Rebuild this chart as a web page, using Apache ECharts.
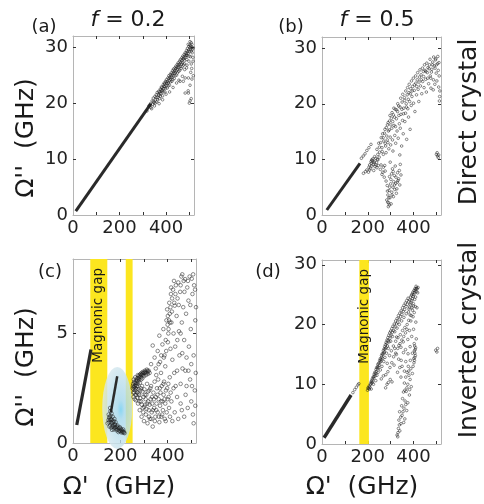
<!DOCTYPE html>
<html>
<head>
<meta charset="utf-8">
<script src="https://cdn.jsdelivr.net/npm/echarts@6/dist/echarts.min.js"></script>
<style>
  html, body { margin: 0; background: #fff; }
  #chart { width: 484px; height: 504px; }
</style>
</head>
<body>
<div id="chart"></div>
<script>
// tick labels
const xLabels = [0, 200, 400];
const xTicks = [100, 200, 300, 400, 500];
const yLabelsBig = [0, 10, 20, 30];
const yTicksBig = [10, 20, 30];
const yLabelsC = [0, 5];
const yTicksC = [5];

// magnonic gaps (GHz)
const gapC = [[73, 145], [223, 252]];
const gapD = [[163, 205]];
const gapLabelC = 109;
const gapLabelD = 184;

// (a) f = 0.2, direct crystal
const lineA = [[12, 0.7], [335, 19.9]];
const cloudA = [
  [330,19.6],[335,19.2],[340,20.4],[342,19.8],[345,20.9],[348,20.1],[350,19.5],[352,21.2],[355,20.6],[358,21.5],
  [360,20.2],[362,21.9],[365,21.0],[368,22.1],[370,21.4],[372,20.8],[375,22.5],[378,21.7],[380,22.9],[382,22.2],
  [385,21.3],[388,23.3],[390,22.6],[392,23.6],[395,22.0],[398,23.9],[400,23.1],[402,24.2],[405,22.7],[408,24.5],
  [410,23.6],[412,24.9],[415,23.2],[418,25.1],[420,24.3],[422,25.4],[425,23.9],[428,25.8],[430,24.9],[432,26.1],
  [435,24.4],[438,26.3],[440,25.5],[442,26.6],[445,25.0],[448,26.9],[450,26.1],[452,27.2],[455,25.7],[458,27.5],
  [460,26.6],[462,27.8],[465,26.2],[468,28.1],[470,27.2],[472,28.4],[475,26.8],[478,28.7],[480,27.6],[482,29.0],
  [485,28.2],[488,29.4],[490,28.5],[492,29.8],[495,28.9],[498,30.1],[500,29.2],[502,30.4],[505,29.6],[508,30.8],
  [510,29.9],[498,27.5],[505,28.3],[512,29.0],[508,27.0],[515,28.2],[470,24.8],[480,26.0],[490,26.8],[455,24.1],
  [460,23.9],[474,23.9],[482,21.8],[496,21.8],[503,20.4],[500,20.0],[488,26.3],[496,24.5],[495,22.2],[482,24.5],
  [430,22.8],[445,23.6],[415,22.0],[400,21.6],[385,20.6],[370,19.9],[495,30.5],[503,31.0],[488,28.6],[476,27.9],
  [466,27.0],[454,26.4],[444,25.7],[434,25.3],[424,24.6],[414,24.0],[404,23.5],[394,22.9],[384,22.3],[374,21.8],
  [318,18.6],[326,19.5],[333,19.9],[338,19.0],[346,20.3],[353,20.0],[357,21.0],[363,20.6],[367,21.5],[371,22.0],
  [376,21.2],[379,22.4],[383,22.8],[387,22.0],[391,23.0],[394,23.4],[397,22.6],[401,23.7],[406,23.9],[409,23.1],
  [413,24.4],[417,24.6],[419,23.8],[423,24.9],[427,25.2],[429,24.2],[433,25.6],[437,25.8],[439,24.9],[443,26.2],
  [447,26.4],[449,25.4],[453,26.8],[457,26.9],[459,25.9],[463,27.3],[467,27.6],[469,26.5],[473,27.9],[477,28.2],
  [479,27.0],[483,28.5],[487,28.9],[489,27.8],[493,29.2],[497,29.5],[499,28.4],[503,29.9],[506,30.2],[509,29.3],
  [511,30.5],[513,29.6],[517,29.9],[516,27.5],[510,26.2],[506,25.5],[511,24.3],[517,24.9],[503,23.2],[508,20.8]
];

// (b) f = 0.5, direct crystal
const lineB = [[21, 0.9], [166, 9.3]];
const tailB = [[172,10.2],[180,10.6],[188,11.0],[196,11.6],[205,12.1],[214,12.7]];
const cloudB = [
  [181,7.5],[190,7.8],[196,8.1],[203,7.7],[205,8.6],[208,9.0],[212,8.4],[215,9.3],[218,8.8],[220,9.8],
  [224,9.1],[226,8.0],[228,9.6],[232,8.7],[235,10.2],[238,9.4],[240,8.5],[244,9.9],[246,8.9],[250,10.4],
  [214,9.6],[222,10.1],[230,10.5],
  [255,8.2],[262,7.3],[268,8.6],[272,6.8],[276,7.9],[280,6.1],[283,2.7],[285,5.3],[288,3.6],[290,1.5],
  [291,2.2],[293,4.4],[295,6.9],[297,3.1],[298,9.5],[300,5.6],[302,2.0],[304,7.4],[305,4.1],[308,8.3],
  [310,5.0],[312,3.3],[313,6.0],[316,7.1],[318,4.6],[320,8.8],[322,5.7],[325,3.9],[327,4.7],[330,7.6],
  [332,6.2],[335,6.5],[338,8.0],[340,5.4],[342,9.1],[345,7.2],
  [240,11.8],[248,12.9],[252,11.3],[259,13.9],[262,12.1],[265,14.6],[268,10.9],[270,13.3],[275,15.4],[278,12.4],
  [280,11.2],[283,14.2],[286,16.2],[288,13.0],[290,15.1],[292,11.9],[295,16.9],[298,14.0],[300,12.6],[303,17.4],
  [305,15.6],[308,13.5],[310,11.5],[312,18.0],[315,16.1],[318,14.3],[320,19.0],[322,12.9],[325,17.3],[328,15.1],
  [330,18.6],[333,13.8],[335,19.6],[338,16.4],[340,10.8],[342,15.6],[345,18.1],[348,12.4],[350,20.3],[352,17.0],
  [355,14.6],[357,19.2],[360,21.1],[362,16.8],[365,18.3],[368,20.0],[370,13.6],[372,21.6],[375,19.1],[378,17.6],
  [380,22.0],[383,20.4],[385,15.4],[388,22.7],[390,19.7],[393,21.3],[396,23.1],[400,20.1],[403,22.4],[406,18.6],
  [410,23.7],[413,21.6],[416,24.3],[420,22.6],[423,20.4],[426,24.8],[430,23.2],[433,25.2],[436,21.8],[440,24.0],
  [443,25.8],[446,22.9],[450,26.0],[453,24.4],[456,22.1],[460,25.6],[463,26.5],[466,23.6],[470,27.0],[473,25.0],
  [476,22.8],[480,26.2],[484,27.5],[487,24.3],[490,26.8],[493,23.5],[496,27.9],[499,25.5],[502,24.1],[505,27.2],
  [508,26.0],[510,23.0],[512,25.0],[514,21.3],[513,20.5],[515,22.3],[497,28.1],[486,22.5],[475,24.6],
  [500,10.9],[505,10.6],[508,10.3],[503,11.2],[510,10.8],
  [244,10.9],[251,12.2],[256,13.0],[263,11.4],[267,13.9],[273,14.7],[276,12.9],[281,15.7],[285,13.5],[289,16.6],
  [294,15.3],[297,17.9],[301,16.2],[306,18.4],[309,16.8],[314,19.2],[317,17.6],[321,15.9],[326,18.9],[331,20.0],
  [336,17.9],[341,19.4],[344,21.0],[349,19.0],[353,21.7],[356,18.2],[361,20.6],[366,22.3],[369,19.4],[374,22.9],
  [377,20.8],[381,23.5],[386,21.8],[391,24.1],[394,22.3],[399,24.6],[404,23.4],[409,25.0],[414,23.1],[418,25.6],
  [424,23.9],[428,26.1],[434,24.3],[439,26.4],[444,24.9],[448,27.0],[454,25.8],[458,27.3],[462,24.6],[468,26.3],
  [472,28.0],[478,25.7],[482,27.0],[488,28.4],[494,26.4],[500,27.0],[506,28.5],[511,27.4],[209,8.1],[217,9.9],
  [227,9.4],[236,9.0],[242,10.0],[258,9.0],[266,7.7],[274,8.9],[286,4.3],[292,3.1],[296,5.0],[301,6.4],
  [306,3.6],[311,7.8],[317,5.4],[323,6.8],[329,5.9],[287,2.3],[294,1.8]
];

// (c) f = 0.2, inverted crystal
const lineC = [[16, 0.82], [76, 4.27]];
const steepC = [[187, 3.05], [160, 1.4]];
const ellipseC = [[187, 1.6]];
const blobC = [
  [158,1.45],[155,1.2],[152,0.95],[150,1.05],[160,1.1],[165,0.9],[170,0.8],[172,1.0],[175,0.7],[178,0.85],
  [182,0.65],[185,0.75],[190,0.6],[195,0.68],[200,0.55],[205,0.6],[210,0.5],[215,0.52],[218,0.45],[162,0.7],
  [158,0.8],[168,1.2],[163,1.35],[157,1.6],[180,0.95],[188,0.8],[198,0.72],[205,0.48],[175,1.1],[165,0.6],
  [146,0.9],[154,0.75],[192,0.5],[212,0.62],
  [151,1.3],[156,1.05],[161,0.95],[167,0.75],[173,0.62],[179,0.72],[184,0.58],[189,0.7],[196,0.55],[202,0.65],
  [208,0.55],[214,0.47],[170,0.95],[176,0.82],[153,1.15],[159,1.25],[164,1.05]
];
const cloudC = [
  [252,2.5],[254,2.7],[255,2.3],[257,2.9],[258,2.55],[260,2.75],[262,2.4],[263,3.0],[265,2.65],[267,2.85],
  [268,2.2],[270,2.95],[272,2.6],[274,3.1],[276,2.8],[278,2.45],[280,3.0],[283,2.75],[285,3.15],[288,2.9],
  [290,3.2],[293,2.95],[296,3.25],[300,3.05],[304,3.3],[308,3.1],[312,3.35],[316,3.15],[320,3.3],[324,3.2],
  [256,2.1],[261,2.0],[266,1.95],[271,2.3],
  [275,1.8],[280,2.2],[282,1.5],[285,2.4],[288,1.9],[290,1.2],[292,2.6],[295,1.6],[298,2.1],[300,1.0],
  [302,2.45],[305,1.75],[308,1.3],[310,2.2],[313,2.7],[315,0.9],[318,1.9],[320,1.5],[322,2.4],[325,1.1],
  [328,2.0],[330,2.6],[333,1.4],[335,1.8],[337,0.75],[340,2.3],[343,1.6],[345,2.8],[348,1.2],[350,2.1],
  [353,1.8],[355,2.5],[358,1.4],[360,2.9],[362,2.0],[365,0.95],[368,1.7],[370,2.3],[373,1.2],[375,2.6],
  [378,1.9],[380,1.5],[383,2.2],[385,2.8],[388,1.1],[390,1.8],[393,2.4],[396,1.4],[400,2.0],[403,2.7],
  [406,1.6],[410,1.2],[413,2.3],[416,1.9],[420,1.0],[425,2.5],[430,1.4],
  [330,3.6],[337,4.45],[345,3.9],[350,3.4],[358,4.2],[365,4.9],[368,3.7],[373,4.0],[378,4.5],[382,5.2],
  [387,4.0],[390,3.5],[392,4.7],[395,5.6],[398,6.1],[401,4.6],[401,5.8],[404,5.2],[407,6.4],[410,5.5],
  [412,4.3],[414,6.8],[416,5.5],[418,6.0],[420,3.8],[423,7.0],[425,5.0],[428,6.4],[430,6.27],[432,4.4],
  [435,7.2],[438,5.8],[440,3.3],[442,6.6],[445,7.33],[448,5.1],[450,4.0],[453,6.9],[455,2.7],[458,7.6],
  [460,5.5],[463,3.4],[466,6.2],[468,7.4],[470,4.7],[474,7.48],[476,2.2],[478,5.9],[480,3.9],[483,7.1],
  [485,1.6],[488,6.5],[490,4.4],[493,7.6],[495,2.9],[498,5.2],[500,3.6],[502,7.5],[505,6.8],[507,1.3],
  [510,4.0],[512,7.2],[515,2.4],[517,5.6],[519,3.2],[520,6.2],[470,1.2],[455,1.8],[440,2.1],[445,1.1],
  [460,1.5],[480,2.6],[500,1.9],[510,0.9],
  [253,2.6],[256,2.45],[259,2.8],[261,2.6],[264,2.5],[266,2.75],[269,2.6],[271,2.85],[273,2.7],[275,2.95],
  [277,3.05],[279,2.9],[282,3.1],[286,3.0],[289,3.1],[292,3.15],[295,3.1],[298,3.2],[302,3.2],[306,3.25],
  [310,3.2],[314,3.3],[318,3.25],[259,2.3],[263,2.2],[268,2.45],[273,2.05],[277,2.25],[281,1.9],[284,2.05],
  [287,2.5],[291,1.75],[294,2.35],[297,1.4],[301,1.65],[304,2.2],[307,2.0],[311,1.55],[314,1.8],[317,2.35],
  [321,1.2],[324,1.75],[327,2.5],[331,1.1],[334,2.1],[338,1.5],[342,2.0],[346,1.0],[352,1.5],[357,2.2],
  [363,1.2],[367,2.5],[372,1.9],[377,1.3],[382,2.7],[387,2.0],[392,1.0],[398,2.5],[404,2.1],[409,3.0],
  [352,3.1],[362,3.6],[372,3.2],[384,3.9],[394,4.2],[403,5.0],[409,5.9],[412,6.2],[406,5.6],[400,5.4],
  [415,7.1],[419,6.6],[427,7.4],[433,6.8],[447,6.3],[455,7.2],[462,7.7],[471,6.9],[486,7.4],[496,6.3],
  [508,7.7],[516,7.0],[488,3.3],[503,2.6],[517,1.7],[462,4.1],[475,3.3],[455,5.0],[441,4.7],[428,3.2],
  [434,2.6]
];

// (d) f = 0.5, inverted crystal
const lineD = [[9, 1.05], [127, 8.2]];
const tailD = [[135,8.6],[143,9.1],[150,9.5],[157,9.9],[161,10.1]];
const cloudD = [
  [199,9.0],[203,9.3],[206,9.7],[209,9.5],[212,10.1],[215,10.4],[218,10.2],[220,10.9],[223,11.2],[226,11.0],
  [228,11.7],[231,12.0],[234,11.8],[236,12.5],[239,12.8],[242,12.6],[244,13.3],[247,13.5],[250,13.2],[252,14.0],
  [255,14.3],[258,14.1],[260,14.8],[263,15.1],[266,15.0],[268,15.6],[271,15.9],[274,16.3],[277,16.6],[280,17.0],
  [284,17.4],[288,17.8],[292,18.2],[296,18.6],[300,18.9],
  [305,19.3],[310,19.7],[316,20.1],[322,20.6],[328,21.0],[334,21.5],[340,21.9],[346,22.3],[352,22.8],[358,23.2],
  [364,23.6],[370,24.0],[376,24.4],[380,22.6],[383,22.9],[386,23.3],[389,23.6],[392,24.0],[395,24.3],[398,24.7],
  [401,25.0],[404,25.3],[407,25.6],[410,25.9],[413,26.1],[416,26.0],[420,26.2],[400,23.1],[405,24.2],[395,22.4],
  [390,21.5],[408,23.0],[403,22.0],
  [215,9.2],[225,10.0],[235,10.6],[240,11.5],[245,12.0],[255,12.4],[262,13.0],[270,13.8],[275,14.5],[282,15.2],
  [285,13.5],[290,16.0],[295,14.8],[300,17.2],[303,15.6],[308,18.0],[312,16.4],[315,13.2],[318,18.8],[322,17.2],
  [325,15.0],[328,19.4],[332,17.8],[335,14.2],[338,20.0],[342,18.3],[345,16.2],[348,20.6],[352,19.0],[355,17.1],
  [358,21.2],[362,19.5],[365,15.8],[368,21.8],[372,20.0],[375,17.5],[378,22.1],[382,19.0],[385,16.3],[388,20.6],
  [392,18.0],[395,15.2],[398,21.3],[400,19.2],[403,16.8],[405,14.5],[406,15.2],[404,14.0],[407,15.8],[405,16.4],
  [402,13.6],[410,20.4],[412,17.6],[415,22.8],[350,13.0],[360,12.2],[340,12.8],[330,12.0],[345,11.2],[298,10.8],
  [290,10.3],[284,10.0],[278,9.4],[306,10.4],
  [377,13.0],[372,12.0],[380,11.5],[366,11.2],[385,10.8],[360,10.2],[375,10.0],[390,9.6],[356,8.7],[368,8.8],
  [382,8.2],[352,7.6],[363,7.2],[375,6.9],[348,6.4],[358,6.0],[370,5.6],[339,5.4],[350,4.8],[362,4.2],
  [336,4.0],[345,3.4],[334,2.6],[340,2.2],[328,1.5],[332,1.9],[395,11.8],[388,12.6],
  [497,15.7],[505,16.0],[502,15.4],
  [201,9.4],[207,9.2],[211,9.9],[217,10.6],[221,10.4],[227,11.3],[232,11.4],[237,12.1],[243,12.9],[248,12.8],
  [253,13.7],[257,13.8],[261,14.5],[265,14.3],[269,15.2],[273,15.4],[276,15.9],[279,16.1],[283,16.8],[286,16.4],
  [289,17.3],[293,17.1],[297,17.7],[302,18.2],[307,18.7],[313,19.0],[319,19.6],[325,20.1],[331,20.4],[337,20.9],
  [343,21.3],[349,21.7],[355,22.2],[361,22.5],[367,23.0],[373,23.4],[379,23.8],[384,24.1],[387,24.6],[391,24.9],
  [394,25.1],[397,25.4],[402,25.7],[406,26.0],[411,26.4],[414,25.5],[418,25.3],[409,24.6],[399,23.5],[393,22.8],
  [385,21.6],[379,20.7],[371,19.2],[365,18.6],[357,18.0],[349,17.4],[341,16.8],[331,16.0],[322,15.2],[313,14.6],
  [305,13.6],[297,12.8],[288,12.1],[279,11.6],[268,11.4],[259,10.9],[408,14.8],[404,15.6],[401,14.3],[409,16.1],
  [398,13.0],[386,14.0],[376,15.1],[366,13.8],[356,15.3],[346,14.0],[336,16.5],[326,17.9],[318,16.0],[383,9.1],
  [371,9.4],[362,9.0],[354,5.4],[344,4.5],[366,6.6],[357,3.6],[338,3.2],[331,1.2],[379,12.2]
];

const FONT = 'DejaVu Sans';
const XMAX = 520;

const grids = [
  { left: 73, top: 36, width: 121, height: 179 },   // (a)
  { left: 322, top: 37, width: 119, height: 178 },  // (b)
  { left: 73, top: 259, width: 123, height: 184 },  // (c)
  { left: 322, top: 260, width: 119, height: 184 }  // (d)
];
const yMax = [32, 32, 8.4, 30.8];
const yLabs = [yLabelsBig, yLabelsBig, yLabelsC, yLabelsBig];
const yTks = [yTicksBig, yTicksBig, yTicksC, yTicksBig];

// each grid gets a bottom/top x axis and a left/right y axis (box with mirrored ticks)
function axisPair(g, max, labels, ticks, isX) {
  const line = { show: true, onZero: false, lineStyle: { color: '#b5b5b5', width: 1 } };
  const tick = { show: true, inside: true, length: 3, lineStyle: { color: '#333' }, customValues: ticks };
  const main = {
    gridIndex: g, type: 'value', min: 0, max: max, position: isX ? 'bottom' : 'left',
    axisLine: line, axisTick: tick, splitLine: { show: false },
    axisLabel: { customValues: labels, fontFamily: FONT, fontSize: 18, color: '#222', margin: isX ? 4 : 5 }
  };
  const mirror = {
    gridIndex: g, type: 'value', min: 0, max: max, position: isX ? 'top' : 'right',
    axisLine: line, axisTick: tick, splitLine: { show: false }, axisLabel: { show: false }
  };
  return [main, mirror];
}

let xAxes = [], yAxes = [];
for (let g = 0; g < 4; g++) {
  xAxes = xAxes.concat(axisPair(g, XMAX, xLabels, xTicks, true));
  yAxes = yAxes.concat(axisPair(g, yMax[g], yLabs[g], yTks[g], false));
}

const dot = { color: 'rgba(0,0,0,0)', borderColor: 'rgba(30,30,30,0.8)', borderWidth: 0.8 };
function scatter(g, data, size) {
  return { type: 'scatter', xAxisIndex: 2 * g, yAxisIndex: 2 * g, data: data, symbolSize: size,
           itemStyle: dot, silent: true, z: 4, animation: false };
}
function dense(g, data, w) {
  return { type: 'line', xAxisIndex: 2 * g, yAxisIndex: 2 * g, data: data, showSymbol: false,
           lineStyle: { color: '#2a2a2a', width: w }, silent: true, z: 3, animation: false };
}
function bands(g, gaps) {
  return { type: 'scatter', xAxisIndex: 2 * g, yAxisIndex: 2 * g, data: [], z: 1, silent: true,
           markArea: { silent: true, itemStyle: { color: '#fce61f' },
                       data: gaps.map(r => [{ xAxis: r[0] }, { xAxis: r[1] }]) } };
}

const series = [
  dense(0, lineA, 3), scatter(0, cloudA, 2.6),
  dense(1, lineB, 3), scatter(1, tailB, 2.6), scatter(1, cloudB, 2.6),
  bands(2, gapC),
  { type: 'scatter', xAxisIndex: 4, yAxisIndex: 4, data: ellipseC, symbolSize: [30, 82], z: 2, silent: true,
    itemStyle: { color: new echarts.graphic.RadialGradient(0.62, 0.52, 0.6, [
      { offset: 0, color: '#6ccbef' }, { offset: 0.2, color: '#a4d6ea' }, { offset: 1, color: '#d8e8ee' }]) } },
  dense(2, lineC, 3.2), dense(2, steepC, 2.5), scatter(2, blobC, 3.6), scatter(2, cloudC, 3.6),
  bands(3, gapD),
  dense(3, lineD, 3.4), scatter(3, tailD, 2.6), scatter(3, cloudD, 2.6)
];

const chart = echarts.init(document.getElementById('chart'));
chart.setOption({
  animation: false,
  backgroundColor: '#fff',
  grid: grids,
  xAxis: xAxes,
  yAxis: yAxes,
  series: series
});

// text annotations
function txt(x, y, text, size, rot) {
  return {
    type: 'text', x: x, y: y, rotation: rot || 0, silent: true, z: 10,
    style: { text: text, fontFamily: FONT, fontSize: size, fill: '#1a1a1a',
             align: 'center', verticalAlign: 'middle', textAlign: 'center', textVerticalAlign: 'middle' }
  };
}
function titleTxt(x, y, val) {
  return {
    type: 'text', x: x, y: y, silent: true, z: 10,
    style: { text: '{i|f} = ' + val, fontFamily: FONT, fontSize: 22, fill: '#1a1a1a',
             align: 'center', verticalAlign: 'middle', textAlign: 'center', textVerticalAlign: 'middle',
             rich: { i: { fontStyle: 'italic', fontFamily: FONT, fontSize: 22, fill: '#1a1a1a' } } }
  };
}
function gapTxt(g, xVal) {
  const p = chart.convertToPixel({ xAxisIndex: 2 * g, yAxisIndex: 2 * g }, [xVal, yMax[g]]);
  return {
    type: 'text', x: p[0], y: p[1] + 9, rotation: Math.PI / 2, silent: true, z: 10,
    style: { text: 'Magnonic gap', fontFamily: FONT, fontSize: 13.5, fill: '#1a1a1a',
             align: 'right', verticalAlign: 'middle', textAlign: 'right', textVerticalAlign: 'middle' }
  };
}
const R = Math.PI / 2;
chart.setOption({
  graphic: [
    titleTxt(128, 20, '0.2'), titleTxt(377, 20, '0.5'),
    txt(44, 27, '(a)', 18), txt(291, 27, '(b)', 18), txt(50, 272, '(c)', 18), txt(268, 272, '(d)', 18),
    txt(26, 138, "\u03A9''  (GHz)", 25, R), txt(26, 367, "\u03A9''  (GHz)", 25, R),
    txt(119, 487, "\u03A9'  (GHz)", 25), txt(362, 487, "\u03A9'  (GHz)", 25),
    txt(469, 122, 'Direct crystal', 25, R), txt(469, 340, 'Inverted crystal', 25, R),
    gapTxt(2, gapLabelC), gapTxt(3, gapLabelD)
  ]
});
</script>
</body>
</html>
